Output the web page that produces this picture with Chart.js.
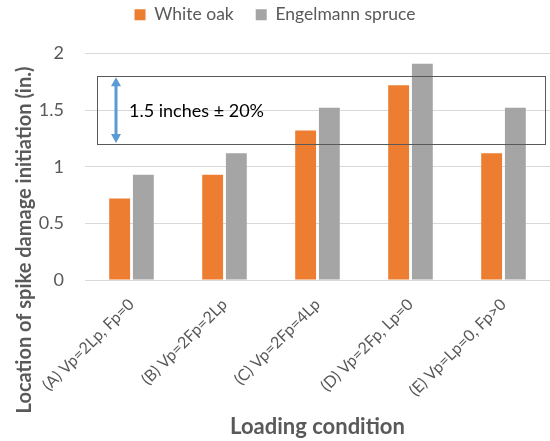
<!DOCTYPE html>
<html>
<head>
<meta charset="utf-8">
<script src="https://cdn.jsdelivr.net/npm/chart.js@4.4.1/dist/chart.umd.min.js"></script>
<style>
    html, body { margin: 0; padding: 0; background: #fff; overflow: hidden; }
    #wrap { width: 550px; height: 441px; position: relative; }
</style>
</head>
<body>
<div id="wrap"><canvas id="spikeChart"></canvas></div>
<script>
const categories = ['(A) Vp=2Lp, Fp=0', '(B) Vp=2Fp=2Lp', '(C) Vp=2Fp=4Lp', '(D) Vp=2Fp, Lp=0', '(E) Vp=Lp=0, Fp>0'];
const whiteOak = [0.72, 0.93, 1.32, 1.72, 1.12];
const engelmannSpruce = [0.93, 1.12, 1.52, 1.91, 1.52];
const yTicks = [0, 0.5, 1, 1.5, 2];
const targetValue = 1.5;
const targetTolerance = 0.2;
const targetLabel = '1.5 inches \u00b1 20%';
const yTitle = 'Location of spike damage initiation (in.)';

const FONT = 'Lato';
const TEXT = '#595959';

// Espace sous la légende
const legendGap = {
    id: 'legendGap',
    beforeInit(chart) {
        const fit = chart.legend.fit;
        chart.legend.fit = function () {
            fit.bind(chart.legend)();
            this.height += 20;
        };
    }
};

// Titre de l'axe Y (centré sur toute la hauteur, pas seulement la zone du graphique)
const yAxisTitle = {
    id: 'yAxisTitle',
    afterDraw(chart) {
        const { ctx } = chart;
        ctx.save();
        ctx.translate(25, 240);
        ctx.rotate(-Math.PI / 2);
        ctx.fillStyle = TEXT;
        ctx.font = 'bold 20px ' + FONT;
        ctx.textAlign = 'center';
        ctx.textBaseline = 'middle';
        ctx.fillText(yTitle, 0, 0);
        ctx.restore();
    }
};

// Bande 1.5 in. ± 20 % avec flèche double
const targetBand = {
    id: 'targetBand',
    afterDatasetsDraw(chart) {
        const { ctx, chartArea, scales } = chart;
        const yTop = scales.y.getPixelForValue(targetValue * (1 + targetTolerance));
        const yBot = scales.y.getPixelForValue(targetValue * (1 - targetTolerance));
        const x0 = chartArea.left + 12;
        const x1 = chartArea.right - 5;
        ctx.save();
        ctx.strokeStyle = '#595959';
        ctx.lineWidth = 1;
        ctx.strokeRect(Math.round(x0) + 0.5, Math.round(yTop) + 0.5, Math.round(x1 - x0), Math.round(yBot - yTop));

        const ax = x0 + 19;
        const head = 9;
        ctx.strokeStyle = '#5B9BD5';
        ctx.fillStyle = '#5B9BD5';
        ctx.lineWidth = 3;
        ctx.beginPath();
        ctx.moveTo(ax, yTop + head);
        ctx.lineTo(ax, yBot - head);
        ctx.stroke();
        ctx.beginPath();
        ctx.moveTo(ax, yTop + 1);
        ctx.lineTo(ax - 5, yTop + head + 1);
        ctx.lineTo(ax + 5, yTop + head + 1);
        ctx.closePath();
        ctx.fill();
        ctx.beginPath();
        ctx.moveTo(ax, yBot - 1);
        ctx.lineTo(ax - 5, yBot - head - 1);
        ctx.lineTo(ax + 5, yBot - head - 1);
        ctx.closePath();
        ctx.fill();

        ctx.fillStyle = '#000';
        ctx.font = '18px ' + FONT;
        ctx.textBaseline = 'middle';
        ctx.textAlign = 'left';
        ctx.fillText(targetLabel, x0 + 32, (yTop + yBot) / 2 + 1);
        ctx.restore();
    }
};

new Chart(document.getElementById('spikeChart'), {
    type: 'bar',
    data: {
        labels: categories,
        datasets: [
            {
                label: 'White oak',
                data: whiteOak,
                backgroundColor: '#ED7D31',
                barPercentage: 0.88,
                categoryPercentage: 0.51
            },
            {
                label: 'Engelmann spruce',
                data: engelmannSpruce,
                backgroundColor: '#A5A5A5',
                barPercentage: 0.88,
                categoryPercentage: 0.51
            }
        ]
    },
    options: {
        responsive: true,
        maintainAspectRatio: false,
        animation: false,
        layout: { padding: { top: -16, right: 0, bottom: 0, left: 0 } },
        plugins: {
            legend: {
                position: 'top',
                labels: {
                    boxWidth: 11,
                    boxHeight: 11,
                    padding: 22,
                    color: TEXT,
                    font: { family: FONT, size: 17.5 }
                }
            },
            tooltip: { enabled: false }
        },
        scales: {
            x: {
                grid: { display: false },
                border: { color: '#D9D9D9' },
                ticks: {
                    color: TEXT,
                    font: { family: FONT, size: 16 },
                    maxRotation: 45,
                    minRotation: 45,
                    padding: 7
                },
                title: {
                    display: true,
                    text: 'Loading condition',
                    color: TEXT,
                    font: { family: FONT, size: 22, weight: 'bold' },
                    padding: { top: 0, bottom: 1 }
                },
                afterFit: s => { s.height = 161; }
            },
            y: {
                min: 0,
                max: 2,
                afterBuildTicks: s => { s.ticks = yTicks.map(v => ({ value: v })); },
                grid: { color: '#D9D9D9', drawTicks: false },
                border: { display: false },
                ticks: {
                    color: TEXT,
                    font: { family: FONT, size: 18 },
                    padding: 21,
                    callback: v => String(v)
                },
                afterFit: s => { s.width = 85; }
            }
        }
    },
    plugins: [legendGap, yAxisTitle, targetBand]
});
</script>
</body>
</html>
